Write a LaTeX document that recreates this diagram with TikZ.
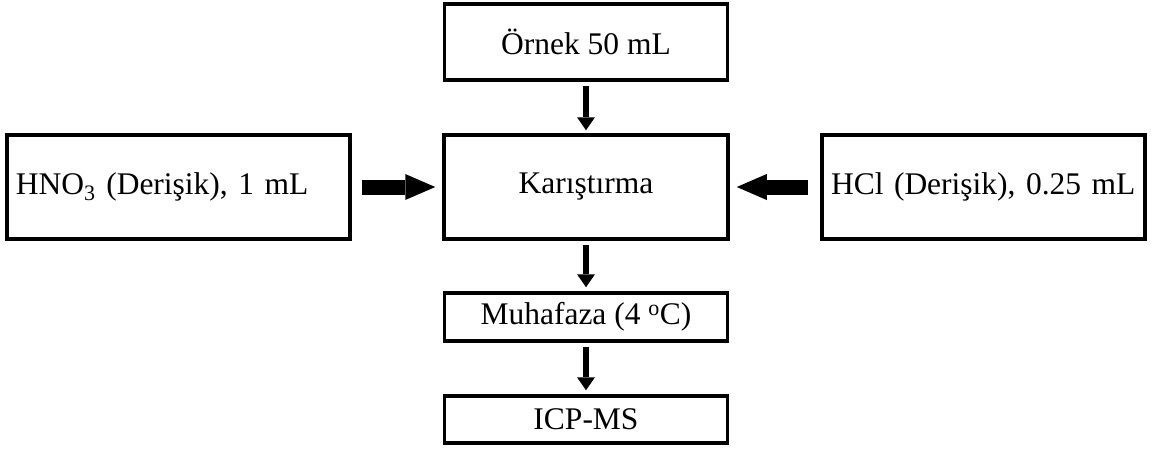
\documentclass[tikz,border=0pt]{standalone}
\usepackage{fontspec}
\setmainfont{Liberation Serif}
\usetikzlibrary{arrows.meta}
\begin{document}
\begin{tikzpicture}[x=1pt, y=-1pt, font=\fontsize{31.5}{36}\selectfont,
		box/.style={draw, line width=3.5pt, inner sep=0pt, align=center},
		sidebox/.style={box, align=left, inner xsep=9pt},
		flow/.style={line width=6pt, -{Triangle[length=13pt, width=18pt, line width=0pt]}},
		feed/.style={line width=15pt, -{Triangle[length=30pt, width=26pt, line width=0pt]}}]
	\useasboundingbox (0,0) rectangle (1153,448);
	\node[box, minimum width=283pt, minimum height=76pt] (ornek) at (586,42) {Örnek 50 mL};
	\node[box, minimum width=284pt, minimum height=104pt] (karis) at (586,187) {Karıştırma};
	\node[sidebox, minimum width=343pt, minimum height=104pt, text width=325pt] (hno) at (178.5,187) {HNO\textsubscript{3} (Derişik), 1 mL};
	\node[sidebox, minimum width=323pt, minimum height=104pt, text width=305pt] (hcl) at (983.5,187) {HCl (Derişik), 0.25 mL};
	\node[box, minimum width=283pt, minimum height=48pt] (muhafaza) at (586,317) {Muhafaza (4 \textsuperscript{o}C)};
	\node[box, minimum width=283pt, minimum height=47pt] (icp) at (586,419.5) {ICP-MS};
	% oklar
	\draw[flow, shorten <=4pt, shorten >=3pt] (ornek) -- (karis);
	\draw[feed, shorten <=10pt, shorten >=7pt] (hno) -- (karis);
	\draw[feed, shorten <=12pt, shorten >=7pt] (hcl) -- (karis);
	\draw[flow, shorten <=4pt, shorten >=4pt] (karis) -- (muhafaza);
	\draw[flow, shorten <=4pt, shorten >=4pt] (muhafaza) -- (icp);
\end{tikzpicture}
\end{document}
